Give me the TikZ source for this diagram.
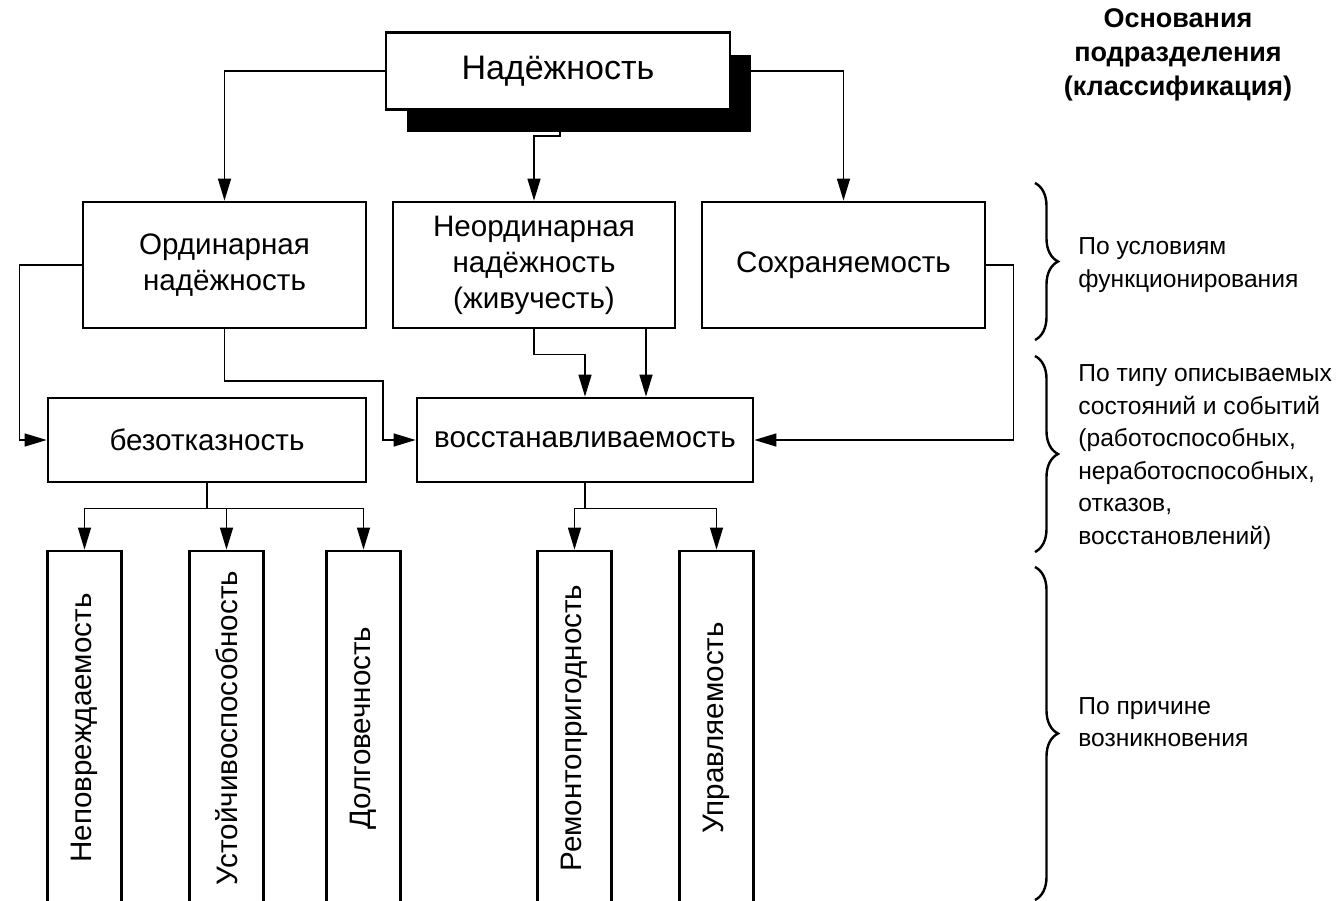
\documentclass[tikz,border=0pt]{standalone}
\usepackage{fontspec}
\setmainfont{Liberation Sans}
\usetikzlibrary{arrows.meta, calc, decorations.pathreplacing}

\begin{document}
\begin{tikzpicture}[
            x=0.5pt, y=-0.5pt,
            my box/.style={
                draw=black, line width=1.4pt, fill=white,
                inner sep=0pt, align=center,
                font=\fontsize{14.8}{18}\selectfont,
            },
            my tall box/.style={
                my box, rotate=90,
                minimum width=177pt, minimum height=37pt,
            },
            my arrow/.style={
                line width=0.7pt,
                -{Triangle[length=11pt, width=6.5pt]},
            },
            my brace/.style={
                decorate, decoration={brace, amplitude=11.5pt},
                line width=1.2pt,
            },
            my note/.style={
                anchor=west, align=left, inner sep=0pt,
                font=\fontsize{12.3}{16.3}\selectfont,
            }]
        \useasboundingbox (0,0) rectangle (1341,901);
        \node[fill=black, inner sep=0pt, minimum width=172pt, minimum height=38.5pt] (shadow) at (579,93) {};
        \node[my box, minimum width=172pt, minimum height=38.5pt, font=\fontsize{17}{20}\selectfont] (top) at (558,71) {Надёжность};
        \node[my box, minimum width=141.5pt, minimum height=63pt] (ord) at (224.5,265) {Ординарная\\надёжность};
        \node[my box, minimum width=141pt, minimum height=63pt] (neo) at (534,265) {Неординарная\\надёжность\\(живучесть)};
        \node[my box, minimum width=141.5pt, minimum height=63pt] (save) at (843.5,265) {Сохраняемость};
        \node[my box, minimum width=159pt, minimum height=42pt] (bez) at (207,440) {безотказность};
        \node[my box, minimum width=168pt, minimum height=42pt] (vos) at (585,440) {восстанавливаемость};
        \node[my tall box] (np) at (84.5,728) {Неповреждаемость};
        \node[my tall box] (us) at (226.5,728) {Устойчивоспособность};
        \node[my tall box] (dl) at (363.5,728) {Долговечность};
        \node[my tall box] (rp) at (574.5,728) {Ремонтопригодность};
        \node[my tall box] (up) at (716.5,728) {Управляемость};
        \coordinate (m1) at (560,136);
        \coordinate (o1) at (383,381);
        \coordinate (n1) at (646,328);
        \draw[my arrow] (top.west) -| (ord.north);
        \draw[my arrow] (m1 |- shadow.south) -- (m1) -| (neo.north);
        \draw[my arrow] (shadow.east |- top.east) -| (save.north);
        \draw[my arrow] (ord.west) -- ++(-62,0) |- (bez.west);
        \draw[my arrow] (ord.south) |- (o1) |- (vos.west);
        \draw[my arrow] (neo.south) -- ++(0,25) -| (vos.north);
        \draw[my arrow] (n1) -- (n1 |- vos.north);
        \draw[my arrow] (save.east) -- ++(27,0) |- (vos.east);
        \foreach \b in {np,us,dl}
            \draw[my arrow] (bez.south) -- ++(0,25) -| (\b.east);
        \foreach \b in {rp,up}
            \draw[my arrow] (vos.south) -- ++(0,25) -| (\b.east);
        \node[align=center, inner sep=0pt, font=\bfseries\fontsize{13.5}{17}\selectfont] (title) at (1178,55) {Основания\\подразделения\\(классификация)};
        \draw[my brace] (1035,183) -- (1035,340);
        \draw[my brace] (1035,356) -- (1035,552);
        \draw[my brace] (1035,567) -- (1035,900);
        \node[my note] (cond) at (1078,265) {По условиям\\функционирования};
        \node[my note] (kind) at (1078,457) {По типу описываемых\\состояний и событий\\(работоспособных,\\неработоспособных,\\отказов,\\восстановлений)};
        \node[my note] (cause) at (1078,722) {По причине\\возникновения};
        \end{tikzpicture}
\end{document}
